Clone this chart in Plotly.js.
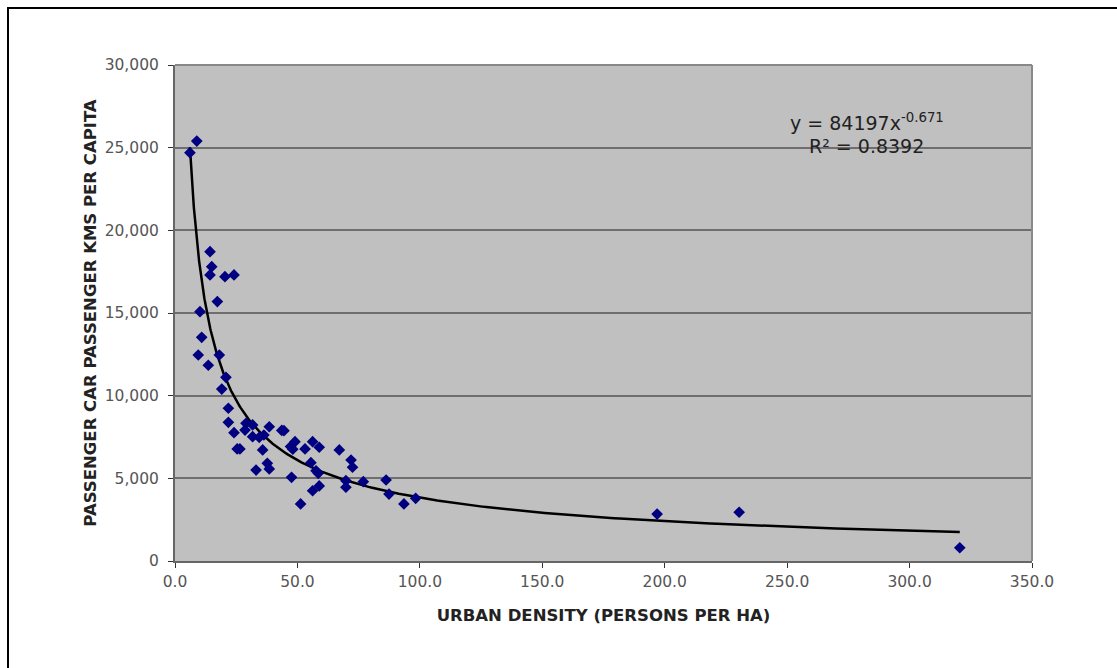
<!DOCTYPE html>
<html>
<head>
<meta charset="utf-8">
<script src="https://cdn.plot.ly/plotly-3.0.1.min.js"></script>
<style>
  html, body { margin: 0; padding: 0; background: #fff; }
  #chart { width: 1117px; height: 668px; }
  #frame { position: absolute; left: 7px; top: 7px; width: 1200px; height: 800px;
           border-left: 2px solid #000; border-top: 2px solid #000; pointer-events: none; }
</style>
</head>
<body>
<div id="chart"></div>
<div id="frame"></div>
<script>
// Urban density (persons per ha)
const density = [8.9, 6.1, 14.3, 15.0, 14.3, 20.4, 24.1, 17.3, 10.2, 10.9, 9.5, 18.1, 13.6, 20.8, 19.1,
  21.8, 21.8, 24.1, 25.4, 29.0, 31.7, 28.6, 38.5, 43.6, 44.5, 31.7, 34.4, 36.3, 26.5, 35.8,
  33.1, 37.7, 38.5, 47.2, 49.0, 48.1, 53.1, 56.2, 58.9, 55.5, 57.6, 58.5, 47.6, 58.9, 56.2,
  51.3, 67.1, 71.9, 72.5, 69.8, 69.8, 76.9, 86.2, 87.4, 93.5, 98.3, 196.9, 230.4, 320.5];
// Passenger car passenger kms per capita
const carKms = [25400, 24700, 18710, 17800, 17300, 17200, 17300, 15690, 15080, 13530, 12460, 12460, 11840, 11110, 10400,
  9240, 8390, 7760, 6780, 8330, 8230, 7920, 8120, 7900, 7880, 7520, 7480, 7620, 6780, 6720,
  5500, 5910, 5570, 6920, 7220, 6760, 6780, 7220, 6880, 5950, 5460, 5300, 5060, 4540, 4250,
  3450, 6720, 6110, 5670, 4860, 4460, 4800, 4900, 4050, 3450, 3790, 2840, 2950, 800];
// Power trendline shown on the chart: y = 84197 x^-0.671
const trendCoef = 84197;
const trendExp = -0.671;
const trendRange = [6.1, 320.5];

const trendX = [];
const trendY = [];
for (let i = 0; i <= 300; i++) {
  const x = trendRange[0] * Math.pow(trendRange[1] / trendRange[0], i / 300);
  trendX.push(x);
  trendY.push(trendCoef * Math.pow(x, trendExp));
}

const tickFont = { family: 'DejaVu Sans', size: 15.5, color: '#555' };
const titleFont = { family: 'DejaVu Sans', size: 16.5, color: '#222', weight: 'bold' };

const data = [
  { x: trendX, y: trendY, type: 'scatter', mode: 'lines', line: { color: '#000', width: 2.5 },
    hoverinfo: 'skip', showlegend: false },
  { x: density, y: carKms, type: 'scatter', mode: 'markers',
    marker: { symbol: 'diamond', color: '#000080', size: 9 }, showlegend: false }
];

const layout = {
  width: 1117, height: 668,
  margin: { l: 175, r: 85, t: 65, b: 107 },
  paper_bgcolor: '#ffffff',
  plot_bgcolor: '#c0c0c0',
  showlegend: false,
  xaxis: {
    range: [0, 350], tickvals: [0, 50, 100, 150, 200, 250, 300, 350], tickformat: '.1f',
    showgrid: false, zeroline: false, showline: true, linecolor: '#666', linewidth: 2, mirror: false,
    ticks: 'outside', ticklen: 5, tickcolor: '#333', tickfont: tickFont,
    title: { text: '<b>URBAN DENSITY (PERSONS PER HA)</b>', font: titleFont, standoff: 20 }
  },
  yaxis: {
    range: [0, 30000], tickvals: [0, 5000, 10000, 15000, 20000, 25000, 30000], tickformat: ',',
    showgrid: true, gridcolor: '#6e6e6e', gridwidth: 2, zeroline: false,
    showline: true, linecolor: '#666', linewidth: 2,
    ticks: 'outside', ticklen: 5, tickcolor: '#333', tickfont: tickFont, ticklabelstandoff: 6,
    title: { text: '<b>PASSENGER CAR PASSENGER KMS PER CAPITA</b>', font: titleFont, standoff: 4 }
  },
  shapes: [
    { type: 'line', xref: 'paper', yref: 'paper', x0: 0, x1: 1, y0: 1, y1: 1, line: { color: '#888', width: 2 } },
    { type: 'line', xref: 'paper', yref: 'paper', x0: 1, x1: 1, y0: 0, y1: 1, line: { color: '#888', width: 2 } }
  ],
  annotations: [
    { xref: 'paper', yref: 'paper', x: 0.807, y: 0.885, xanchor: 'center', yanchor: 'middle',
      text: 'y = 84197x<sup>-0.671</sup>', showarrow: false,
      font: { family: 'DejaVu Sans', size: 19, color: '#222' } },
    { xref: 'paper', yref: 'paper', x: 0.807, y: 0.837, xanchor: 'center', yanchor: 'middle',
      text: 'R² = 0.8392', showarrow: false,
      font: { family: 'DejaVu Sans', size: 19, color: '#222' } }
  ]
};

Plotly.newPlot('chart', data, layout, { displayModeBar: false, staticPlot: true });
</script>
</body>
</html>
